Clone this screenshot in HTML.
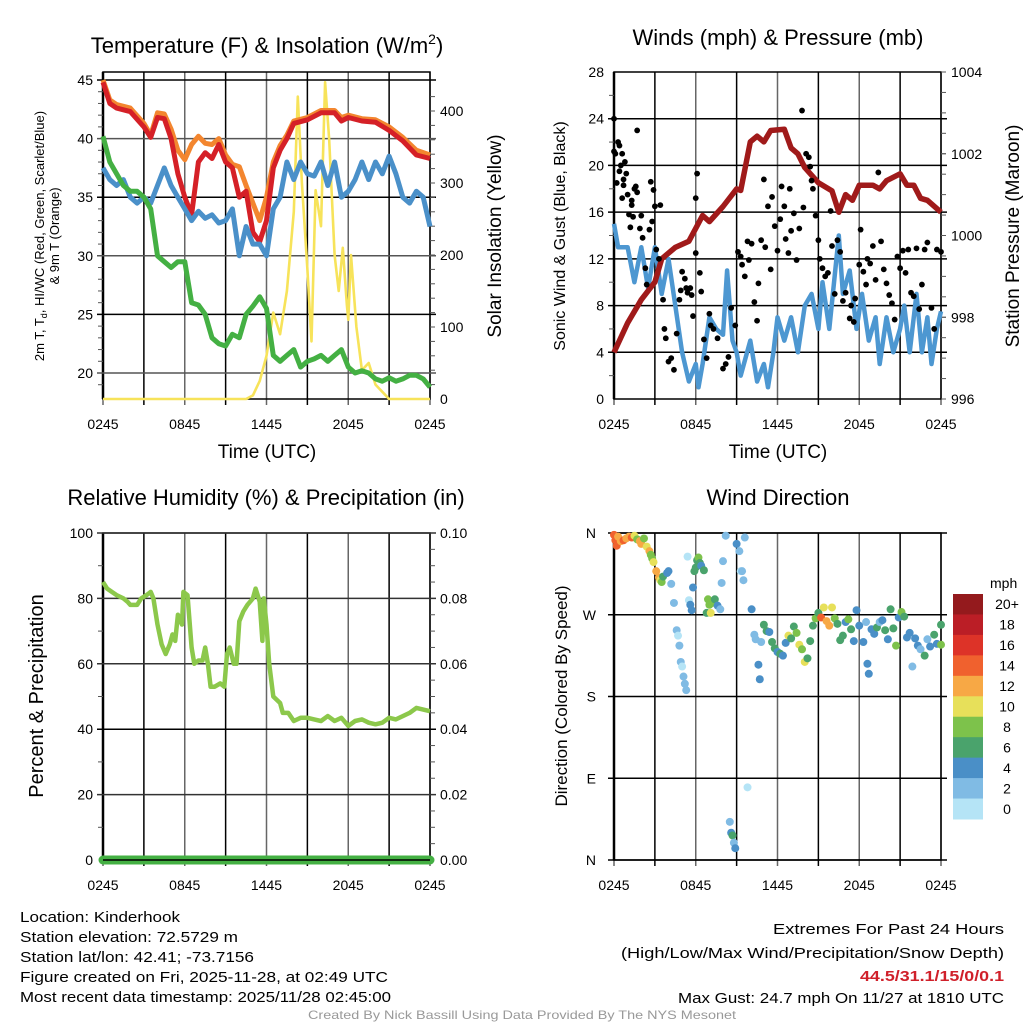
<!DOCTYPE html>
<html><head><meta charset="utf-8">
<style>
html,body{margin:0;padding:0;background:#fff;}
svg{display:block;font-family:"Liberation Sans",sans-serif;}
</style></head>
<body>
<svg id="fig" width="1024" height="1024" viewBox="0 0 1024 1024" xmlns="http://www.w3.org/2000/svg">
<g id="layer"></g>
<!-- titles -->
<text x="267" y="53" font-size="22" text-anchor="middle">Temperature (F) &amp; Insolation (W/m<tspan font-size="14" dy="-9">2</tspan><tspan dy="9">)</tspan></text>
<text x="778" y="45" font-size="22" text-anchor="middle">Winds (mph) &amp; Pressure (mb)</text>
<text x="266" y="505" font-size="22" text-anchor="middle">Relative Humidity (%) &amp; Precipitation (in)</text>
<text x="778" y="505" font-size="22" text-anchor="middle">Wind Direction</text>
<!-- axis titles -->
<text x="267" y="458" font-size="19" text-anchor="middle">Time (UTC)</text>
<text x="778" y="458" font-size="19" text-anchor="middle">Time (UTC)</text>
<g font-size="13" text-anchor="middle">
<text transform="translate(44,236) rotate(-90)">2m T, T<tspan font-size="9" dy="3">d</tspan><tspan dy="-3">, HI/WC (Red, Green, Scarlet/Blue)</tspan></text>
<text transform="translate(59,236) rotate(-90)">&amp; 9m T (Orange)</text>
</g>
<text transform="translate(501,236) rotate(-90)" font-size="19" text-anchor="middle">Solar Insolation (Yellow)</text>
<text transform="translate(565,236) rotate(-90)" font-size="16" text-anchor="middle">Sonic Wind &amp; Gust (Blue, Black)</text>
<text transform="translate(1019,236) rotate(-90)" font-size="19" text-anchor="middle">Station Pressure (Maroon)</text>
<text transform="translate(43,696) rotate(-90)" font-size="20" text-anchor="middle">Percent &amp; Precipitation</text>
<text transform="translate(567,696) rotate(-90)" font-size="17" text-anchor="middle">Direction (Colored By Speed)</text>
<!-- footer -->
<g font-size="15">
<text x="20" y="922" textLength="160" lengthAdjust="spacingAndGlyphs">Location: Kinderhook</text>
<text x="20" y="942" textLength="218" lengthAdjust="spacingAndGlyphs">Station elevation: 72.5729 m</text>
<text x="20" y="962" textLength="234" lengthAdjust="spacingAndGlyphs">Station lat/lon: 42.41; -73.7156</text>
<text x="20" y="982" textLength="368" lengthAdjust="spacingAndGlyphs">Figure created on Fri, 2025-11-28, at 02:49 UTC</text>
<text x="20" y="1002" textLength="371" lengthAdjust="spacingAndGlyphs">Most recent data timestamp: 2025/11/28 02:45:00</text>
</g>
<g font-size="15">
<text x="773" y="934" textLength="231" lengthAdjust="spacingAndGlyphs">Extremes For Past 24 Hours</text>
<text x="621" y="958" textLength="383" lengthAdjust="spacingAndGlyphs">(High/Low/Max Wind/Precipitation/Snow Depth)</text>
<text x="860" y="981" textLength="144" lengthAdjust="spacingAndGlyphs" fill="#d0202a" font-weight="bold">44.5/31.1/15/0/0.1</text>
<text x="678" y="1003" textLength="326" lengthAdjust="spacingAndGlyphs">Max Gust: 24.7 mph On 11/27 at 1810 UTC</text>
</g>
<text x="308" y="1019" font-size="12" fill="#999" textLength="428" lengthAdjust="spacingAndGlyphs">Created By Nick Bassill Using Data Provided By The NYS Mesonet</text>
</svg>
<script>
// ---------- data ----------
var timeTicks = ["0245","0845","1445","2045","0245"];
var tempTicks = [20,25,30,35,40,45];
var solarTicks = [0,100,200,300,400];
var windTicks = [0,4,8,12,16,20,24,28];
var presTicks = [996,998,1000,1002,1004];
var rhTicks = [0,20,40,60,80,100];
var precipTicks = ["0.00","0.02","0.04","0.06","0.08","0.10"];
var dirTicks = ["N","E","S","W","N"];
var speedBins = ["0","2","4","6","8","10","12","14","16","18","20+"];

var tempHours = [0,0.5,1,2,3,3.5,4,4.5,5,5.5,6,6.5,7,7.5,8,8.5,9,9.5,10,10.5,11,11.5,12,12.5,13,13.5,14,15,16,17,17.5,18,19,20,21,22,23,24];
var tempRed =   [44.8,43,42.6,42.3,41,40.1,41.8,41.7,40,37,35,33.5,38,38.8,38.3,39.5,38,37.5,35,35.5,32,31.2,33,37.5,39,40,41.3,41.6,42.2,42.2,41.5,41.8,41.5,41.4,40.7,39.8,38.6,38.3];
var temp9m =    [45,43.3,42.9,42.6,41.3,40.3,42.2,42.1,40.8,39,38.2,39.5,40.2,39.6,39.5,40,38.6,37.8,37.6,36,34.5,33,35,38,39.4,40.3,41.5,41.8,42.4,42.4,41.8,42,41.7,41.6,41,40.1,39,38.6];
var hiHours = [0,0.5,1,1.5,2,2.5,3,3.5,4,4.5,5,5.5,6,6.5,7,7.5,8,8.5,9,9.5,10,10.5,11,11.5,12,12.5,13,13.5,14,14.5,15,15.5,16,16.5,17,17.5,18,18.5,19,19.5,20,20.5,21,21.5,22,22.5,23,23.5,24];
var tempHiWc = [37.5,36.5,36,36.5,35,34.5,35,34.5,36,37.5,36,35,34,33,33.8,33.2,33.5,32.8,33,34,30,32.5,31,31,30,34,35,38,36.5,38,37,36.8,38,36,38,35,35.5,36.5,38,36.5,38,37,38.5,37,35,34.5,35.5,35,32.5];
var dewHours = hiHours;
var tempDew = [40.2,38,37,36,35.5,35.5,35,34,30,29.5,29,29.5,29.5,26,25.8,25,23,22.5,22.3,23.3,23,25,25.7,26.5,25.5,21.5,21,21.5,22,20.5,21,21.2,21.5,21,21.5,22,20.5,20,20.2,20,19.5,19.3,19.6,19.3,19.5,19.8,19.8,19.5,18.8];
var solarHours = [0,10.5,11,11.5,12,12.5,13,13.5,14,14.3,14.6,15,15.3,15.6,16,16.3,16.6,17,17.3,17.6,17.9,18,18.2,18.6,19,19.5,20,20.5,21,24];
var solar = [0,0,5,25,60,120,90,150,260,420,300,180,80,290,240,440,360,200,150,210,130,110,200,100,40,50,20,10,0,0];

var windHours = [0,0.3,1,1.5,2,2.5,3,3.5,4,4.5,5,5.5,6,6.2,6.5,7,7.5,8,8.3,8.7,9,9.3,10,10.5,11,11.3,11.7,12,12.5,13,13.5,14,14.5,15,15.3,15.8,16.5,16.8,17.3,17.8,18.2,18.7,19.2,19.5,20,20.5,21,21.3,21.7,22.2,22.6,23,23.3,23.7,24];
var windSpeed = [15,13,13,10,13,9.5,13,9,12,8,4,1.5,3,1,3,7,6,5.5,11,5,4,2,5,1.5,3,1,4,7,5,7,4,8,9,6,10,6,14,9,11,6,9,5,7,3,7,4,6,8,4,9,4,7,3,6,7.5];
var presHours = [0,1,2,3,3.5,4.5,5.5,6.5,7,8,9,9.3,10,10.5,11,11.5,12.5,13,13.5,14,15,16,16.5,17,17.5,18,19,19.5,20,21,21.5,22,22.5,23,24];
var pressure = [997.14,997.86,998.43,998.86,999.43,999.71,999.86,1000.49,1000.34,1000.71,1001.14,1001.1,1002.29,1002.43,1002.29,1002.57,1002.6,1002.14,1002,1001.66,1001.29,1001.09,1000.57,1001,1000.86,1001.23,1001.23,1001.14,1001.34,1001.51,1001.23,1001.23,1000.91,1000.86,1000.57];
var gustHours = [0,0,0.1,0.2,0.3,0.4,0.4,0.5,0.6,0.6,0.7,0.7,0.8,0.9,1,1.1,1.2,1.3,1.3,1.4,1.5,1.6,1.7,1.7,1.9,2,2.1,2.3,2.4,2.6,2.7,2.8,2.9,3,3.1,3.3,3.4,3.6,3.7,3.8,4,4.2,4.4,4.6,4.8,4.9,5,5.2,5.3,5.4,5.6,5.7,5.8,6,6,6.1,6.3,6.4,6.6,6.8,7,7.1,7.3,7.6,8,8.2,8.4,8.6,8.9,9.1,9.3,9.4,9.6,9.8,9.9,10.1,10.3,10.5,10.6,10.8,11,11.1,11.3,11.5,11.6,11.8,12,12.2,12.3,12.5,12.6,12.8,12.9,13,13.2,13.4,13.6,13.8,13.9,14.1,14.3,14.4,14.5,14.6,14.8,15,15.1,15.3,15.5,15.7,15.9,16,16.2,16.4,16.6,16.8,17,17.3,17.4,17.6,17.7,18,18.1,18.3,18.5,18.6,18.8,19,19.2,19.4,19.6,19.8,20,20.2,20.4,20.6,20.8,21,21.2,21.4,21.6,21.8,22,22.2,22.4,22.6,22.8,23,23.3,23.5,23.7,24];
var gust = [24,21.2,21,18.5,22,21.7,19.5,20,21,17.2,18.8,18.3,20.3,19.3,17.5,15.8,14.7,16.6,17,15.6,18,18.2,17.7,23,14.6,15.7,13.8,11.2,9.8,14.5,18.6,15.2,17.9,16.5,12.8,12,16.6,8.5,6,5.2,3.2,3.5,2.5,5.6,8.5,9.3,10.9,10.3,9.5,9.1,9.5,8.9,7.1,12.5,17.2,19.3,10.8,9.2,5.1,3.5,7.3,6.3,6,5.2,2.6,3,3.6,7.8,6.3,12.6,12.2,11.5,10.5,13.5,11.9,13.3,8.3,6.7,9.9,13.6,18.8,13,16.5,11.1,17.3,14.8,12.7,15.4,18.2,16.5,13.7,12.5,18,14.4,15.9,11.9,14.6,24.7,16.4,21,20.7,19.9,18.7,18,15.7,13.6,12,11.2,10.5,10.8,16.1,13.1,9,13.6,12.6,8.4,9.1,6.9,8,6.6,8.6,11.5,14.5,10.9,9.8,12,11.6,13.1,10.2,19.4,13.5,11.1,9.9,8.9,8.2,6.8,12.2,11.2,12.7,10.8,12.8,9.1,8.8,12.9,7.7,9.8,12.8,13.4,7.8,6,12.8,12.6];

var rhHours = [0,0.3,1,1.5,1.8,2,2.5,2.8,3.2,3.5,3.7,4,4.3,4.6,4.9,5.1,5.3,5.5,5.8,5.9,6.2,6.5,6.7,7,7.3,7.5,7.7,7.9,8.2,8.6,8.9,9.1,9.3,9.6,9.8,10,10.3,10.6,11,11.2,11.5,11.7,11.8,12,12.2,12.5,13,13.2,13.6,14,14.5,15,15.5,16,16.5,17,17.5,18,18.5,19,19.5,20,20.5,21,21.5,22,22.5,23,23.5,24];
var rh = [85,83,81,80,79,78,78,80,81,82,80,72,66,63,66,69,67,75,72,82,81,65,60,61,61,65,60,53,53,54,53,63,65,60,60,73,76,78,80,83,79,67,80,72,60,50,48,45,45,42.5,43.5,43.5,43,42.5,44,42.5,43.5,41,42.5,43,42,41.5,42,43.5,43,44,45,46.5,46,45.5];
var precipHours = [0,24];
var precip = [0,0];

var dirHours = [0,0.1,0.2,0.3,0.5,0.7,0.9,1.1,1.3,1.5,1.7,1.9,2,2.2,2.4,2.6,2.7,2.8,2.9,3.1,3.3,3.4,3.5,3.6,3.9,4,4.2,4.4,4.6,4.7,4.8,4.9,5,5.1,5.2,5.3,5.4,5.5,5.6,5.7,5.8,5.9,6,6.1,6.2,6.3,6.4,6.6,6.8,6.9,7,7.1,7.2,7.4,7.6,7.8,7.9,8,8.2,8.5,8.6,8.7,8.8,8.9,9,9.2,9.3,9.4,9.5,9.6,9.8,10.1,10.3,10.4,10.6,10.7,10.8,11,11.2,11.4,11.6,11.8,12,12.2,12.4,12.6,12.8,13,13.2,13.4,13.6,13.8,14,14.2,14.4,14.6,14.8,15,15.2,15.4,15.6,15.8,16,16.2,16.4,16.6,16.8,17,17.2,17.4,17.6,17.8,18,18.3,18.5,18.6,18.7,18.9,19.1,19.3,19.5,19.7,19.9,20.1,20.3,20.5,20.7,20.9,21.1,21.3,21.5,21.7,21.9,22.1,22.3,22.5,22.8,23,23.2,23.5,23.7,24,24];
var dirDeg = [358,352,346,356,351,352,354,356,355,357,353,351,348,354,345,340,336,332,328,318,311,308,306,312,316,318,304,283,253,247,236,218,213,202,194,187,334,286,281,275,300,318,322,330,333,327,324,319,272,287,281,272,283,287,280,276,305,329,357,42,30,27,19,13,348,340,318,318,308,355,80,276,248,243,215,199,240,259,252,251,240,233,229,227,225,239,247,244,257,250,237,232,218,222,241,258,266,272,267,278,263,258,278,266,260,242,247,262,265,254,241,275,258,240,262,216,205,254,249,256,262,264,253,243,276,255,236,267,273,268,245,250,213,244,236,232,225,243,235,248,238,259,237];
var dirSpeed = [14,15,15,13,12,14,12,13,14,10,9,12,12,8,10,12,8,8,10,12,12,10,8,6,4,4,2,2,2,0,2,2,0,2,2,2,0,0,4,4,4,6,6,6,8,6,4,6,6,8,8,10,8,6,4,2,2,2,2,2,4,6,2,4,4,2,0,2,2,2,0,4,2,2,4,4,2,6,6,4,6,6,4,6,4,4,10,6,6,8,10,8,10,6,6,6,8,6,14,10,12,12,10,8,6,6,6,4,8,6,4,4,4,4,2,4,4,4,4,6,2,4,6,4,6,6,8,4,8,6,4,4,2,4,4,2,6,2,4,6,4,6,8];
var speedColors = ["#b5e4f6","#80bbe4","#4a8fc7","#4aa36c","#7dc24b","#e7e05a","#f7a845","#f0612e","#dd3328","#bb1e26","#941a1d"];

// ---------- helpers ----------
var NS = "http://www.w3.org/2000/svg";
var layer = document.getElementById("layer");
function mk(tag, attrs, parent) {
  var e = document.createElementNS(NS, tag);
  for (var k in attrs) e.setAttribute(k, attrs[k]);
  (parent || layer).appendChild(e);
  return e;
}
function lin(d0, d1, r0, r1) { return function (v) { return r0 + (v - d0) / (d1 - d0) * (r1 - r0); }; }

var L = {x0: 103, x1: 430}, R = {x0: 614, x1: 941};
var xL = lin(0, 24, L.x0, L.x1), xR = lin(0, 24, R.x0, R.x1);
var yTemp = lin(20, 45, 373, 80);
var ySolar = lin(0, 400, 399, 111);
var yWind = lin(0, 28, 399, 72);
var yPres = lin(996, 1004, 399, 72);
var yRh = lin(0, 100, 860, 533);
var yPrecip = lin(0, 0.1, 860, 533);
var yDir = lin(0, 360, 860, 533);

function pathFrom(xs, ys, xf, yf) {
  var d = "";
  for (var i = 0; i < xs.length; i++) d += (i ? "L" : "M") + xf(xs[i]).toFixed(1) + "," + yf(ys[i]).toFixed(1);
  return d;
}

function frame(x0, x1, top, bot, name) {
  var g = mk("g", {});
  
  
  for (var h = 0; h <= 24; h += 3) {
    var xx = x0 + (x1 - x0) * h / 24;
    mk("line", {x1: xx, x2: xx, y1: top, y2: bot + 6, stroke: (h % 6 === 3) ? "#000" : "#666", "stroke-width": 1.5}, g);
  }
  mk("rect", {x: x0, y: top, width: x1 - x0, height: bot - top, fill: "none", stroke: "#000", "stroke-width": 1.5}, g);
  mk("line", {x1: x0, x2: x0, y1: top, y2: bot, stroke: "#000", "stroke-width": 2.5}, g);
  for (var i = 0; i < timeTicks.length; i++) {
    var t = mk("text", {x: x0 + (x1 - x0) * i / 4, y: bot + 30, "font-size": 14, "text-anchor": "middle"}, g);
    
    
    t.textContent = timeTicks[i];
  }
  return g;
}
function hgrid(g, x0, x1, y, col) { mk("line", {x1: x0 - 6, x2: x1 + 6, y1: y, y2: y, stroke: col || "#000", "stroke-width": 1.5}, g); }
function ylab(g, x, y, txt, anchor) {
  var t = mk("text", {x: x, y: y + 5, "font-size": 14, "text-anchor": anchor}, g);
  
  
  t.textContent = txt;
}
function minor(g, x, ys, dir) { ys.forEach(function (y) { mk("line", {x1: x, x2: x + dir * 5, y1: y, y2: y, stroke: "#555", "stroke-width": 1}, g); }); }

// ---------- temperature panel ----------
var g1 = frame(L.x0, L.x1, 72, 399, "temperature-plot");
tempTicks.forEach(function (v) { hgrid(g1, L.x0, L.x1, yTemp(v), v % 10 === 5 ? "#000" : "#555"); ylab(g1, L.x0 - 10, yTemp(v), v, "end"); });
solarTicks.forEach(function (v) { ylab(g1, L.x1 + 10, ySolar(v), v, "start"); });
for (var s = 20; s < 440; s += 20) minor(g1, L.x1, [ySolar(s)], 1);
for (var s2 = 19; s2 < 46; s2++) if (s2 % 5) minor(g1, L.x0, [yTemp(s2)], -1);
var p;
p = mk("path", {d: pathFrom(solarHours, solar, xL, ySolar), fill: "none", stroke: "#f7e35a", "stroke-width": 2.6, "stroke-linejoin": "round"}, g1);


p = mk("path", {d: pathFrom(tempHours, temp9m, xL, yTemp), fill: "none", stroke: "#f3862f", "stroke-width": 5, "stroke-linejoin": "round"}, g1);


p = mk("path", {d: pathFrom(tempHours, tempRed, xL, yTemp), fill: "none", stroke: "#d52027", "stroke-width": 5, "stroke-linejoin": "round"}, g1);


p = mk("path", {d: pathFrom(hiHours, tempHiWc, xL, yTemp), fill: "none", stroke: "#4a90c9", "stroke-width": 5, "stroke-linejoin": "round"}, g1);


p = mk("path", {d: pathFrom(dewHours, tempDew, xL, yTemp), fill: "none", stroke: "#44b043", "stroke-width": 5, "stroke-linejoin": "round"}, g1);



// ---------- wind panel ----------
var g2 = frame(R.x0, R.x1, 72, 399, "winds-plot");
windTicks.forEach(function (v) { if (v > 0 && v < 28) hgrid(g2, R.x0, R.x1, yWind(v)); ylab(g2, R.x0 - 10, yWind(v), v, "end"); });
presTicks.forEach(function (v) { ylab(g2, R.x1 + 10, yPres(v), v, "start"); minor(g2, R.x1, [yPres(v)], 1); });
for (var w = 2; w < 28; w += 4) minor(g2, R.x0, [yWind(w)], -1);
for (var pm = 996.5; pm < 1004; pm += 0.5) minor(g2, R.x1, [yPres(pm)], 1);
p = mk("path", {d: pathFrom(windHours, windSpeed, xR, yWind), fill: "none", stroke: "#4d97d1", "stroke-width": 4.5, "stroke-linejoin": "round"}, g2);


p = mk("path", {d: pathFrom(presHours, pressure, xR, yPres), fill: "none", stroke: "#a01a1a", "stroke-width": 5.5, "stroke-linejoin": "round"}, g2);


for (var i = 0; i < gust.length; i++) {
  var c = mk("circle", {cx: xR(gustHours[i]), cy: yWind(gust[i]), r: 2.9, fill: "#000"}, g2);
  
  
}

// ---------- humidity panel ----------
var g3 = frame(L.x0, L.x1, 533, 860, "humidity-plot");
rhTicks.forEach(function (v) { if (v > 0) hgrid(g3, L.x0, L.x1, yRh(v), v % 40 === 0 && v !== 80 ? "#000" : "#333"); ylab(g3, L.x0 - 10, yRh(v), v, "end"); });
precipTicks.forEach(function (v) { ylab(g3, L.x1 + 10, yPrecip(+v), v, "start"); });
for (var m = 10; m < 100; m += 20) { minor(g3, L.x0, [yRh(m)], -1); minor(g3, L.x1, [yRh(m)], 1); }
for (var m2 = 5; m2 < 100; m2 += 5) if (m2 % 10) minor(g3, L.x1, [yRh(m2)], 1);
p = mk("path", {d: pathFrom(rhHours, rh, xL, yRh), fill: "none", stroke: "#8cc84b", "stroke-width": 4.5, "stroke-linejoin": "round"}, g3);


p = mk("path", {d: pathFrom(precipHours, precip, xL, yPrecip), fill: "none", stroke: "#44b043", "stroke-width": 9, "stroke-linecap": "round"}, g3);


mk("line", {x1: L.x0, x2: L.x1, y1: 860, y2: 860, stroke: "#000", "stroke-width": 1.5}, g3);

// ---------- wind direction panel ----------
var g4 = frame(R.x0, R.x1, 533, 860, "wind-direction-plot");
[0, 90, 180, 270, 360].forEach(function (v, i) { hgrid(g4, R.x0, R.x1, yDir(v)); ylab(g4, R.x0 - 18, yDir(v), dirTicks[i], "end"); });
for (var i = 0; i < dirDeg.length; i++) {
  var bin = Math.min(10, Math.floor(dirSpeed[i] / 2));
  var c = mk("circle", {cx: xR(dirHours[i]), cy: yDir(dirDeg[i]), r: 4, fill: speedColors[bin]}, g4);
  
  
}
// colorbar
var cb = mk("g", {});


var ct = mk("text", {x: 990, y: 588, "font-size": 14}, cb);
ct.textContent = "mph";
var boxH = 225 / speedBins.length;
for (var k = 0; k < speedBins.length; k++) {
  var idx = speedBins.length - 1 - k;
  var by = 594 + k * boxH;
  var r = mk("rect", {x: 953, y: by, width: 30, height: boxH + 0.5, fill: speedColors[idx]}, cb);
  
  
  var lt = mk("text", {x: 1007, y: by + boxH / 2 + 5, "font-size": 14, "text-anchor": "middle"}, cb);
  
  
  lt.textContent = speedBins[idx];
}
</script>
</body></html>
